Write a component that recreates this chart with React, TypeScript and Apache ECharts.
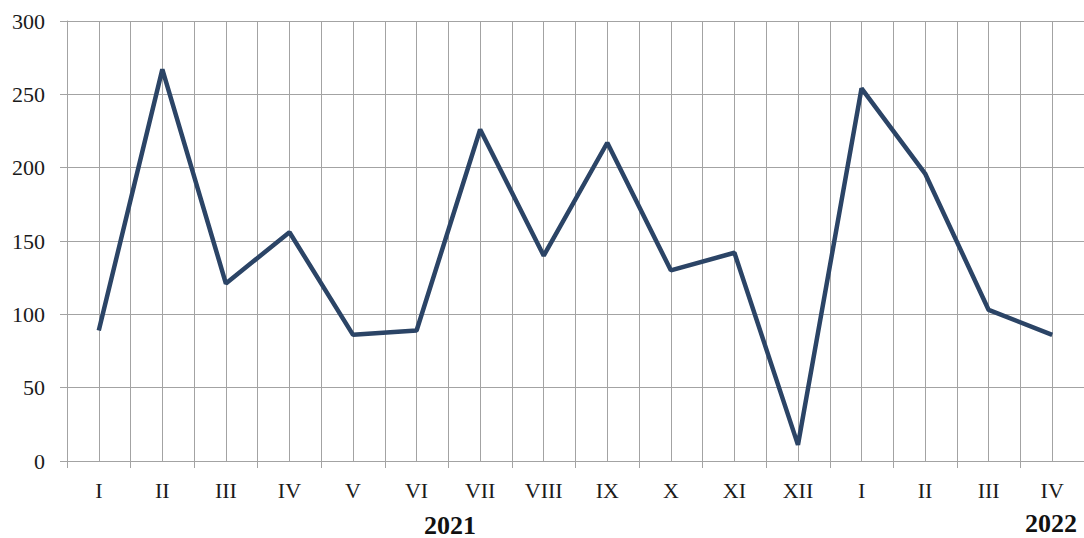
import React, { useEffect, useRef } from "react";
import * as echarts from "echarts";

const months = ["I", "II", "III", "IV", "V", "VI", "VII", "VIII", "IX", "X", "XI", "XII", "I", "II", "III", "IV"];
const values = [89, 267, 121, 156, 86, 89, 226, 140, 217, 130, 142, 11, 254, 196, 103, 86];
const yTicks = { min: 0, max: 300, interval: 50 };
const yearLabels = [
  { text: "2021", x: 450, y: 525 },
  { text: "2022", x: 1051, y: 523 },
];

const FONT = "Liberation Serif";
const GRID = "#a3a3a3";

export default function App() {
  const ref = useRef<HTMLDivElement>(null);
  useEffect(() => {
    if (!ref.current) return;
    const chart = echarts.init(ref.current, undefined, { renderer: "svg" });
    chart.setOption({
      animation: false,
      backgroundColor: "#ffffff",
      grid: { left: 67, right: -2, top: 21, bottom: 77, containLabel: false },
      xAxis: [
        {
          type: "category",
          data: months,
          boundaryGap: true,
          axisLine: { show: true, lineStyle: { color: GRID, width: 1 } },
          axisTick: { show: true, length: 7, inside: false, lineStyle: { color: GRID } },
          axisLabel: { color: "#1a1a1a", fontFamily: FONT, fontSize: 22, margin: 18 },
          splitLine: { show: false },
        },
        {
          type: "value",
          min: 0,
          max: 16,
          interval: 0.5,
          show: true,
          axisLine: { show: false },
          axisTick: { show: false },
          axisLabel: { show: false },
          splitLine: { show: true, lineStyle: { color: GRID, width: 1 } },
        },
      ],
      yAxis: {
        type: "value",
        min: yTicks.min,
        max: yTicks.max,
        interval: yTicks.interval,
        axisLine: { show: true, lineStyle: { color: GRID, width: 1 } },
        axisTick: { show: true, length: 7, lineStyle: { color: GRID } },
        axisLabel: { color: "#1a1a1a", fontFamily: FONT, fontSize: 22, margin: 22 },
        splitLine: { show: true, lineStyle: { color: GRID, width: 1 } },
      },
      series: [
        {
          type: "line",
          data: values,
          xAxisIndex: 0,
          symbol: "none",
          lineStyle: { color: "#2b4466", width: 4.5 },
          z: 5,
        },
      ],
      graphic: yearLabels.map((l) => ({
        type: "text",
        x: l.x,
        y: l.y,
        style: {
          text: l.text,
          fontFamily: FONT,
          fontWeight: "bold",
          fontSize: 26,
          fill: "#111",
          textAlign: "center",
          textVerticalAlign: "middle",
        },
      })),
    });
    return () => chart.dispose();
  }, []);
  return (
    <div
      ref={ref}
      style={{ position: "fixed", left: 0, top: 0, width: 1084, height: 538 }}
    />
  );
}
